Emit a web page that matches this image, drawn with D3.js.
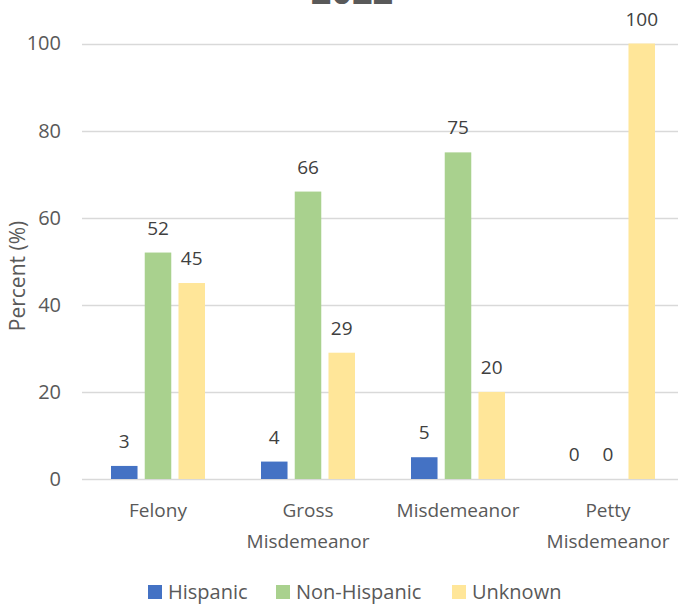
<!DOCTYPE html>
<html>
<head>
<meta charset="utf-8">
<script src="https://cdn.jsdelivr.net/npm/d3@7"></script>
<style>
  html, body { margin: 0; padding: 0; background: #fff; }
  svg { display: block; font-family: "Open Sans", "Noto Sans", sans-serif; }
</style>
</head>
<body>
<svg id="chart" width="678" height="607"></svg>
<script>
// Offense levels (two-line labels split on "|")
const categories = ["Felony", "Gross|Misdemeanor", "Misdemeanor", "Petty|Misdemeanor"];
const seriesNames = ["Hispanic", "Non-Hispanic", "Unknown"];
const seriesColors = ["#4472C4", "#A9D18E", "#FFE699"];
// Percent of cases per ethnicity group, one entry per offense level
const hispanic = [3, 4, 5, 0];
const nonHispanic = [52, 66, 75, 0];
const unknown = [45, 29, 20, 100];
const yTicks = [0, 20, 40, 60, 80, 100];
const chartTitle = "2022";

const seriesValues = [hispanic, nonHispanic, unknown];
const svg = d3.select("#chart");

const x0 = d3.scaleBand().domain(categories).range([83, 683]).padding(0);
const x1 = d3.scaleBand().domain(seriesNames).range([0, 94]).paddingInner(0.214).paddingOuter(0);
const groupOffset = (x0.bandwidth() - 94) / 2;
const y = d3.scaleLinear().domain([0, 100]).range([479, 43.5]);

// Title (top edge of the canvas)
svg.append("text")
  .attr("x", 352).attr("y", 4)
  .attr("text-anchor", "middle")
  .attr("font-size", 36).attr("font-weight", "bold")
  .attr("fill", "#595959")
  .text(chartTitle);

// Horizontal gridlines
svg.append("g")
  .selectAll("line")
  .data(yTicks)
  .join("line")
  .attr("x1", 82).attr("x2", 678)
  .attr("y1", d => Math.round(y(d)) + 0.5)
  .attr("y2", d => Math.round(y(d)) + 0.5)
  .attr("stroke", "#D9D9D9").attr("stroke-width", 1.3);

// Y axis tick labels
const yAxis = d3.axisLeft(y).tickValues(yTicks).tickSize(0).tickPadding(0);
const yG = svg.append("g").attr("transform", "translate(61,0)").call(yAxis);
yG.select(".domain").remove();
yG.selectAll("text")
  .attr("font-size", 20).attr("fill", "#595959")
  .attr("font-family", "'Open Sans', sans-serif");

// Y axis title
svg.append("text")
  .attr("transform", "translate(25,276) rotate(-90)")
  .attr("text-anchor", "middle")
  .attr("font-size", 21).attr("fill", "#595959")
  .text("Percent (%)");

// Bars and value labels
const rows = categories.map((c, i) => ({
  cat: c,
  vals: seriesNames.map((s, j) => ({ s, j, v: seriesValues[j][i] }))
}));

const groups = svg.append("g")
  .selectAll("g")
  .data(rows)
  .join("g")
  .attr("transform", d => `translate(${x0(d.cat) + groupOffset},0)`);

groups.selectAll("rect")
  .data(d => d.vals)
  .join("rect")
  .attr("x", d => x1(d.s))
  .attr("width", x1.bandwidth())
  .attr("y", d => y(d.v))
  .attr("height", d => y(0) - y(d.v))
  .attr("fill", d => seriesColors[d.j]);

groups.selectAll("text")
  .data(d => d.vals)
  .join("text")
  .attr("x", d => x1(d.s) + x1.bandwidth() / 2)
  .attr("y", d => y(d.v) - 18)
  .attr("text-anchor", "middle")
  .attr("font-size", 19).attr("fill", "#404040")
  .text(d => d3.format("d")(d.v));

// Category labels below the axis
const xLab = svg.append("g")
  .selectAll("text")
  .data(categories)
  .join("text")
  .attr("text-anchor", "middle")
  .attr("font-size", 19).attr("fill", "#595959")
  .attr("x", d => x0(d) + x0.bandwidth() / 2)
  .attr("y", 517);
xLab.selectAll("tspan")
  .data(d => d.split("|"))
  .join("tspan")
  .attr("x", function () { return d3.select(this.parentNode).attr("x"); })
  .attr("dy", (d, i) => i === 0 ? 0 : 30.5)
  .text(d => d);

// Legend
const legendX = [148, 276, 452];
const legend = svg.append("g")
  .selectAll("g")
  .data(seriesNames)
  .join("g")
  .attr("transform", (d, i) => `translate(${legendX[i]},585)`);
legend.append("rect")
  .attr("width", 14).attr("height", 14)
  .attr("fill", (d, i) => seriesColors[i]);
legend.append("text")
  .attr("x", 20).attr("y", 14)
  .attr("font-size", 20).attr("fill", "#595959")
  .text(d => d);
</script>
</body>
</html>
